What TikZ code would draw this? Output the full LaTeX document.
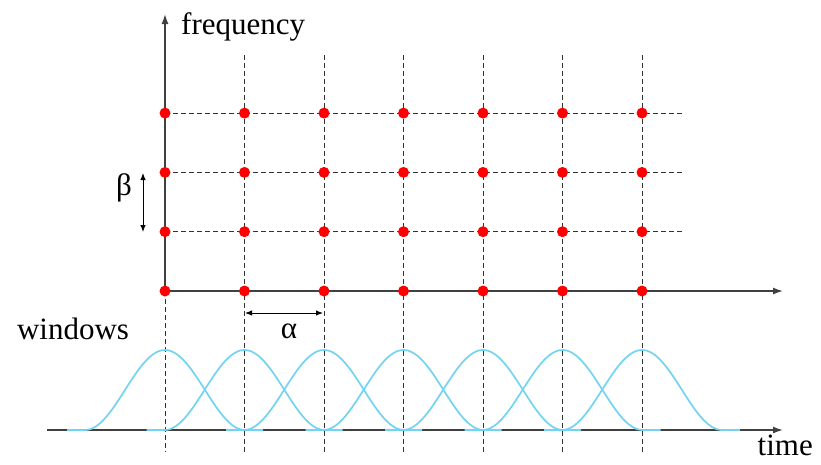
\documentclass[tikz,border=0pt]{standalone}
\usepackage{fontspec}
\setmainfont{Liberation Serif}
\usepackage{xcolor}
\usepackage{tikz}
\usetikzlibrary{arrows.meta, positioning, calc}

\definecolor{winblue}{RGB}{115,212,242}

\begin{document}
\begin{tikzpicture}[
    x=1pt, y=-1pt,
    axis/.style={draw=black!75, line width=1.4pt, -{Latex[length=10pt,width=7pt]}},
    gridline/.style={draw=black!80, line width=1pt, dash pattern=on 4.5pt off 3.5pt},
    dot/.style={circle, fill=red, inner sep=0pt, minimum size=11pt},
    window/.style={draw=winblue, line width=1.7pt},
    lbl/.style={font=\fontsize{31}{36}\selectfont, inner sep=0pt},
    dimarrow/.style={draw=black, line width=1pt, {Latex[length=7pt,width=5.5pt]}-{Latex[length=7pt,width=5.5pt]}}
]
    \useasboundingbox (0,0) rectangle (821,464);
    % lattice points and line ends
    \foreach \i in {1,...,7} {
        \coordinate (t\i) at ({165+79.5*(\i-1)}, 55);
        \coordinate (b\i) at ({165+79.5*(\i-1)}, 452);
        \coordinate (w\i) at ({165+79.5*(\i-1)}, 430);
        \foreach \j in {0,...,3}
            \coordinate (p\i\j) at ({165+79.5*(\i-1)}, {291-59.3*\j});
    }
    \foreach \j in {1,...,3}
        \coordinate (r\j) at (685, {291-59.3*\j});
    \coordinate (ftop) at (165,14);
    \coordinate (tend) at (783,291);
    \coordinate (wstart) at (47,430);
    \coordinate (wend) at (783,430);

    % dashed grid
    \draw[gridline] (p10) -- (b1);
    \foreach \i in {2,...,7}
        \draw[gridline] (t\i) -- (b\i);
    \foreach \j in {1,...,3}
        \draw[gridline] (p1\j) -- (r\j);

    % axes
    \draw[axis] (p10) -- (ftop);
    \draw[axis] (p10) -- (tend);
    \draw[axis] (wstart) -- (wend);

    % windows
    \foreach \i in {1,...,7} {
        \draw[window] ($(w\i)+(-98,0)$) -- ($(w\i)+(-80,0)$)
            plot[domain=-80:80, samples=61, smooth] ({165+79.5*(\i-1)+\x}, {430-40*(1+cos(180*\x/80))})
            -- ($(w\i)+(98,0)$);
    }

    % lattice dots
    \foreach \i in {1,...,7}
        \foreach \j in {0,...,3}
            \node[dot] (d\i\j) at (p\i\j) {};

    % spacings
    \coordinate (bt) at (143,173);
    \coordinate (bb) at (143,232);
    \draw[dimarrow] (bt) -- (bb);
    \coordinate (al) at (245,313);
    \coordinate (ar) at (323,313);
    \draw[dimarrow] (al) -- (ar);

    % labels
    \node[lbl, anchor=west] (freq) at (181,27) {frequency};
    \node[lbl] (win) at (73,329) {windows};
    \node[lbl, anchor=east] (time) at (813,445) {time};
    \node[lbl] (beta) at (124,188) {β};
    \node[lbl] (alpha) at (289,331) {α};
\end{tikzpicture}
\end{document}
